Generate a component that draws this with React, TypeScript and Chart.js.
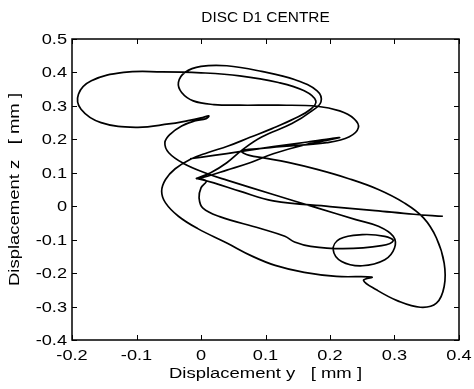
import React, { useEffect, useRef } from "react";
import { Chart, registerables } from "chart.js";

Chart.register(...registerables);

const titleText = "DISC D1 CENTRE";
const xTitle = "Displacement y   [ mm ]";
const yTitle = "Displacement z   [ mm ]";

const xTicks = [-0.2, -0.1, 0, 0.1, 0.2, 0.3, 0.4];
const xTickLabels = ["-0.2", "-0.1", "0", "0.1", "0.2", "0.3", "0.4"];
const yTicks = [0.5, 0.4, 0.3, 0.2, 0.1, 0, -0.1, -0.2, -0.3, -0.4];
const yTickLabels = ["0.5", "0.4", "0.3", "0.2", "0.1", "0", "-0.1", "-0.2", "-0.3", "-0.4"];

// Orbit of the disc centre: horizontal displacement y [mm]
const orbitY = [
  -0.017, 0.02, 0.06, 0.112, 0.165, 0.215, 0.16, 0.112, 0.076, 0.04,
  0.01, -0.007, 0.015, 0.04, 0.065, 0.094, 0.141, 0.172, 0.186, 0.18,
  0.146, 0.094, 0.04, 0.0, -0.025, -0.035, -0.03, -0.012, 0.02, 0.06,
  0.12, 0.18, 0.215, 0.237, 0.244, 0.23, 0.195, 0.148, 0.09, 0.063,
  0.075, 0.099, 0.135, 0.18, 0.228, 0.275, 0.315, 0.345, 0.365, 0.377,
  0.377, 0.365, 0.34, 0.305, 0.272, 0.252, 0.265, 0.21, 0.16, 0.115,
  0.08, 0.04, -0.005, -0.035, -0.055, -0.061, -0.055, -0.04, -0.017, 0.01,
  0.042, 0.076, 0.11, 0.145, 0.17, 0.178, 0.16, 0.12, 0.06, 0.0,
  -0.06, -0.12, -0.17, -0.19, -0.186, -0.155, -0.1, -0.05, -0.02, 0.0,
  0.012, 0.008, -0.01, -0.03, -0.048, -0.056, -0.05, -0.027, 0.009, 0.04,
  0.112, 0.18, 0.24, 0.275, 0.298, 0.3, 0.285, 0.25, 0.218, 0.205,
  0.215, 0.25, 0.285, 0.298, 0.28, 0.22, 0.17, 0.145, 0.13, 0.091,
  0.029, 0.003, -0.003, 0.0, 0.008, -0.007, 0.02, 0.06, 0.112, 0.2,
  0.27, 0.33, 0.375,
];

// Vertical displacement z [mm]
const orbitZ = [
  0.142, 0.152, 0.163, 0.178, 0.192, 0.205, 0.183, 0.157, 0.13, 0.108,
  0.09, 0.083, 0.1, 0.13, 0.17, 0.207, 0.247, 0.285, 0.312, 0.345,
  0.378, 0.403, 0.42, 0.418, 0.4, 0.37, 0.34, 0.315, 0.304, 0.302,
  0.302, 0.299, 0.285, 0.262, 0.235, 0.208, 0.19, 0.182, 0.172, 0.165,
  0.152, 0.144, 0.131, 0.11, 0.083, 0.05, 0.01, -0.035, -0.095, -0.17,
  -0.24, -0.29, -0.302, -0.283, -0.25, -0.222, -0.212, -0.21, -0.198, -0.177,
  -0.15, -0.11, -0.067, -0.03, 0.01, 0.045, 0.08, 0.112, 0.14, 0.16,
  0.18, 0.206, 0.232, 0.262, 0.29, 0.315, 0.345, 0.37, 0.39, 0.399,
  0.402, 0.4, 0.375, 0.335, 0.29, 0.25, 0.236, 0.246, 0.256, 0.264,
  0.27, 0.262, 0.255, 0.24, 0.215, 0.19, 0.16, 0.128, 0.098, 0.078,
  0.035, -0.005, -0.04, -0.06, -0.09, -0.125, -0.16, -0.178, -0.165, -0.13,
  -0.098, -0.085, -0.09, -0.103, -0.118, -0.127, -0.12, -0.107, -0.09, -0.066,
  -0.031, -0.006, 0.025, 0.055, 0.075, 0.083, 0.07, 0.045, 0.016, -0.001,
  -0.013, -0.024, -0.03,
];

const FONT = "'Liberation Sans', Arial, sans-serif";

function stretchText(
  ctx: CanvasRenderingContext2D,
  text: string,
  x: number,
  y: number,
  sx: number,
  align: CanvasTextAlign,
  rotate = 0
) {
  ctx.save();
  ctx.translate(x, y);
  if (rotate) ctx.rotate(rotate);
  ctx.scale(sx, 1);
  ctx.textAlign = align;
  ctx.textBaseline = "alphabetic";
  ctx.fillText(text, 0, 0);
  ctx.restore();
}

const framePlugin = {
  id: "matlabFrame",
  afterDraw(chart: any) {
    const ctx: CanvasRenderingContext2D = chart.ctx;
    const { left, right, top, bottom } = chart.chartArea;
    const xs = chart.scales.x;
    const ys = chart.scales.y;
    ctx.save();
    ctx.strokeStyle = "#000";
    ctx.lineWidth = 1.5;
    ctx.strokeRect(left, top, right - left, bottom - top);
    ctx.lineWidth = 1;
    const tl = 5;
    ctx.beginPath();
    xTicks.forEach((v) => {
      const px = Math.round(xs.getPixelForValue(v)) + 0.5;
      ctx.moveTo(px, bottom);
      ctx.lineTo(px, bottom - tl);
      ctx.moveTo(px, top);
      ctx.lineTo(px, top + tl);
    });
    yTicks.forEach((v) => {
      const py = Math.round(ys.getPixelForValue(v)) + 0.5;
      ctx.moveTo(left, py);
      ctx.lineTo(left + tl, py);
      ctx.moveTo(right, py);
      ctx.lineTo(right - tl, py);
    });
    ctx.stroke();

    ctx.fillStyle = "#000";
    ctx.font = `14px ${FONT}`;
    xTicks.forEach((v, i) => {
      stretchText(ctx, xTickLabels[i], xs.getPixelForValue(v), bottom + 20, 1.3, "center");
    });
    yTicks.forEach((v, i) => {
      stretchText(ctx, yTickLabels[i], left - 5, ys.getPixelForValue(v) + 5, 1.3, "right");
    });
    const cx = (left + right) / 2;
    const cy = (top + bottom) / 2;
    stretchText(ctx, xTitle, cx, bottom + 38, 1.32, "center");
    stretchText(ctx, yTitle, 19, cy, 1.32, "center", -Math.PI / 2);
    ctx.font = `14px ${FONT}`;
    stretchText(ctx, titleText, cx, 22, 1.1, "center");
    ctx.restore();
  },
};

export default function App() {
  const ref = useRef<HTMLCanvasElement | null>(null);
  useEffect(() => {
    document.body.style.margin = "0";
    const canvas = ref.current;
    if (!canvas) return;
    const data = orbitY.map((x, i) => ({ x, y: orbitZ[i] }));
    const chart = new Chart(canvas, {
      type: "scatter",
      data: {
        datasets: [
          {
            data,
            showLine: true,
            borderColor: "#000",
            borderWidth: 1.7,
            pointRadius: 0,
            tension: 0.4,
            fill: false,
          },
        ],
      },
      options: {
        responsive: false,
        animation: false,
        events: [],
        layout: { padding: { left: 72, right: 15, top: 39, bottom: 49 } },
        plugins: { legend: { display: false }, tooltip: { enabled: false }, title: { display: false } },
        scales: {
          x: { type: "linear", min: -0.2, max: 0.4, display: false },
          y: { type: "linear", min: -0.4, max: 0.5, display: false },
        },
      },
      plugins: [framePlugin],
    });
    return () => chart.destroy();
  }, []);
  return (
    <div style={{ width: 474, height: 389, background: "#fff" }}>
      <canvas ref={ref} width={474} height={389} />
    </div>
  );
}
